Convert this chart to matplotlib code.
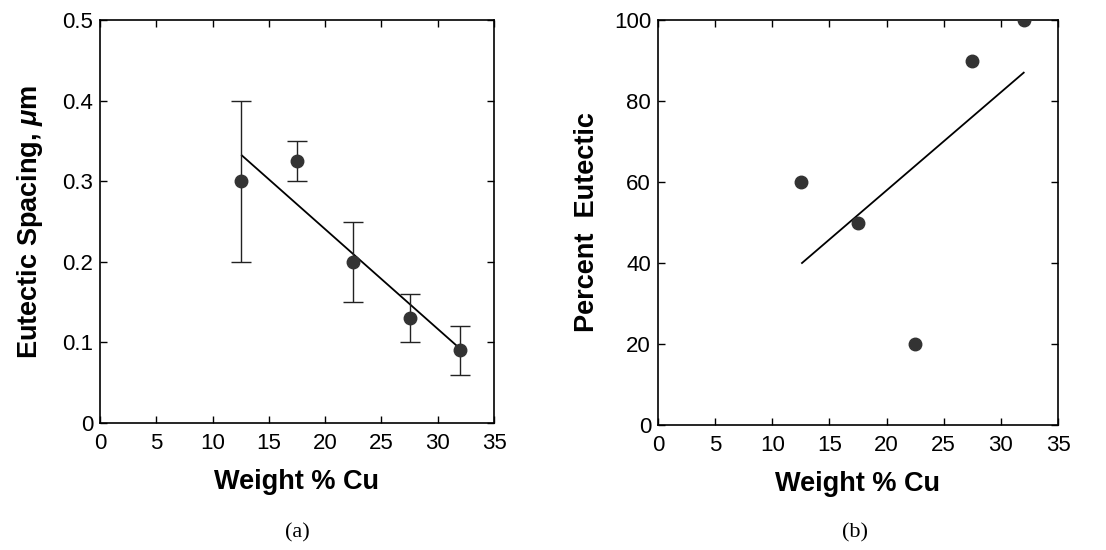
import matplotlib
matplotlib.use("Agg")
import matplotlib.pyplot as plt
import numpy as np

wt_cu = [12.5, 17.5, 22.5, 27.5, 32.0]
spacing = [0.30, 0.325, 0.20, 0.13, 0.09]
spacing_err = [0.10, 0.025, 0.05, 0.03, 0.03]
fit_a_x = [12.6, 32.0]
fit_a_y = [0.332, 0.092]

percent_eutectic = [60, 50, 20, 90, 100]
fit_b_x = [12.6, 32.0]
fit_b_y = [40, 87]

x_ticks = [0, 5, 10, 15, 20, 25, 30, 35]
ya_ticks = [0, 0.1, 0.2, 0.3, 0.4, 0.5]
ya_labels = ["0", "0.1", "0.2", "0.3", "0.4", "0.5"]
yb_ticks = [0, 20, 40, 60, 80, 100]

plt.rcParams['font.family'] = ['Liberation Sans', 'DejaVu Sans']
plt.rcParams['mathtext.fontset'] = 'custom'
plt.rcParams['mathtext.it'] = 'Liberation Sans:italic:bold'
plt.rcParams['mathtext.rm'] = 'Liberation Sans:bold'

fig = plt.figure(figsize=(11.06, 5.5), dpi=100)
W, H = 1106, 550
axa = fig.add_axes([100 / W, 1 - 423 / H, 394 / W, 403 / H])
axb = fig.add_axes([658 / W, 1 - 425 / H, 400 / W, 405 / H])

mcol = '#333333'
for ax in (axa, axb):
    ax.set_xlim(0, 35)
    ax.set_xticks(x_ticks)
    ax.tick_params(direction='in', top=True, right=True, length=5, width=1,
                   labelsize=16, colors='black')
    ax.tick_params(axis='x', pad=7)
    ax.tick_params(axis='y', pad=5)
    for s in ax.spines.values():
        s.set_linewidth(1.2)
    ax.set_xlabel("Weight % Cu", fontsize=19.5, fontweight='bold', labelpad=11)

axa.set_ylim(0, 0.5)
axa.set_yticks(ya_ticks)
axa.set_yticklabels(ya_labels)
axa.errorbar(wt_cu, spacing, yerr=spacing_err, fmt='o', color=mcol,
             ecolor='#222222', elinewidth=1, capsize=7, capthick=1,
             markersize=9, zorder=3)
axa.plot(fit_a_x, fit_a_y, color='black', lw=1.3, zorder=2)
axa.set_ylabel("Eutectic Spacing, $\\mu$m", fontsize=19.5,
               fontweight='bold', labelpad=12)

axb.set_ylim(0, 100)
axb.set_yticks(yb_ticks)
axb.plot(wt_cu, percent_eutectic, 'o', color=mcol, markersize=9, zorder=3)
axb.plot(fit_b_x, fit_b_y, color='black', lw=1.3, zorder=2)
axb.set_ylabel("Percent  Eutectic", fontsize=19.5, fontweight='bold', labelpad=10)

fig.text(297 / W, 1 - 533 / H, "(a)", ha='center', va='center',
         fontsize=16, family='Liberation Serif')
fig.text(855 / W, 1 - 533 / H, "(b)", ha='center', va='center',
         fontsize=16, family='Liberation Serif')

fig.savefig("out.png", dpi=100)
